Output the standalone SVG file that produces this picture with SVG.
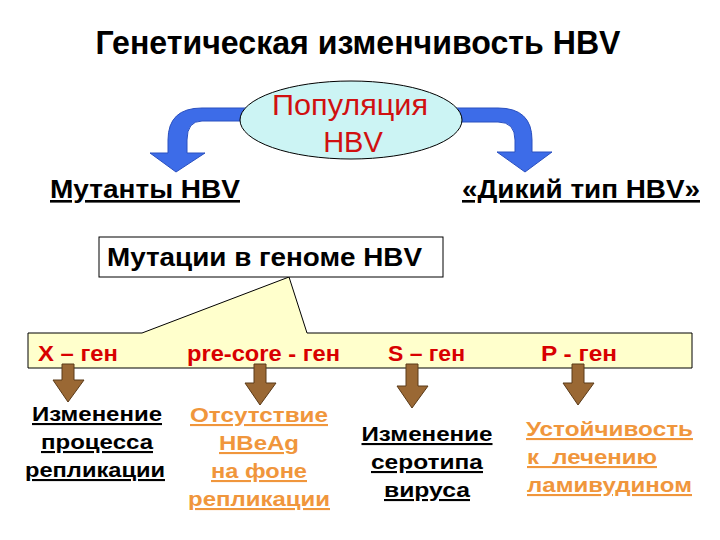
<svg xmlns="http://www.w3.org/2000/svg" width="720" height="540" viewBox="0 0 720 540">
<style>
text{font-family:"Liberation Sans",Arial,sans-serif;}
.title{font-size:33px;font-weight:bold;fill:#000;}
.lbl{font-size:26px;font-weight:bold;fill:#000;text-decoration:underline;}
.ell{font-size:29px;fill:#d01010;}
.gene{font-size:22px;font-weight:bold;fill:#d80000;}
.blk{font-size:21px;font-weight:bold;fill:#000;text-decoration:underline;}
.org{font-size:21px;font-weight:bold;fill:#f0963c;text-decoration:underline;}
.blue{fill:#3d6ce8;stroke:#2a50c0;stroke-width:1;}
.brown{fill:#9a6834;stroke:#5a3a18;stroke-width:1;}
</style>
<rect width="720" height="540" fill="#fff"/>
<g id="title"><text class="title" x="358" y="54" text-anchor="middle" textLength="525" lengthAdjust="spacingAndGlyphs">Генетическая изменчивость HBV</text></g>
<g id="mutants"><text class="lbl" x="50" y="198" textLength="190" lengthAdjust="spacingAndGlyphs">Мутанты HBV</text></g>
<g id="wild"><text class="lbl" x="462" y="198" textLength="238" lengthAdjust="spacingAndGlyphs">«Дикий тип HBV»</text></g>
<g id="genes">
<path d="M28,333 H142 L289,277 L307,333 H692 V368 H28 Z" fill="#ffffcc" stroke="#000" stroke-width="1"/>
<text class="gene" x="38" y="361" textLength="80" lengthAdjust="spacingAndGlyphs">X – ген</text>
<text class="gene" x="187" y="361" textLength="153" lengthAdjust="spacingAndGlyphs">pre-core - ген</text>
<text class="gene" x="388" y="361" textLength="77" lengthAdjust="spacingAndGlyphs">S – ген</text>
<text class="gene" x="541" y="361" textLength="76" lengthAdjust="spacingAndGlyphs">P - ген</text>
</g>
<g id="mutations">
<rect x="99" y="237" width="344" height="40" fill="#fff" stroke="#000" stroke-width="1"/>
<text x="107" y="266" font-size="26" font-weight="bold" textLength="315" lengthAdjust="spacingAndGlyphs">Мутации в геноме HBV</text>
</g>
<g id="connectors">
<path class="blue" d="M250,108 H202 Q168,108 168,140 V153 H150 L176,172 L205,153 H187 V140 Q187,121 202,121 H250 Z"/>
<path class="blue" d="M450,108 H498 Q532,108 532,140 V152 H552 L525,172 L497,152 H515 V140 Q515,122 498,122 H450 Z"/>
<path class="brown" d="M62,364 H74 V380 H84 L68,402 L53,380 H62 Z"/>
<path class="brown" d="M254,364 H266 V383 H276 L260,405 L245,383 H254 Z"/>
<path class="brown" d="M406,364 H418 V386 H428 L412,408 L397,386 H406 Z"/>
<path class="brown" d="M572,364 H584 V383 H594 L578,405 L563,383 H572 Z"/>
</g>
<g id="population">
<ellipse cx="351" cy="120" rx="111" ry="39" fill="#ccf4f4" stroke="#000" stroke-width="1"/>
<text class="ell" x="350" y="115" text-anchor="middle" textLength="156" lengthAdjust="spacingAndGlyphs">Популяция</text>
<text class="ell" x="353" y="152" text-anchor="middle">HBV</text>
</g>
<g id="x-effect">
<text class="blk" x="97" y="421" text-anchor="middle" textLength="130" lengthAdjust="spacingAndGlyphs">Изменение</text>
<text class="blk" x="97" y="449" text-anchor="middle" textLength="112" lengthAdjust="spacingAndGlyphs">процесса</text>
<text class="blk" x="95" y="477" text-anchor="middle" textLength="140" lengthAdjust="spacingAndGlyphs">репликации</text>
</g>
<g id="precore-effect">
<text class="org" x="259" y="422" text-anchor="middle" textLength="138" lengthAdjust="spacingAndGlyphs">Отсутствие</text>
<text class="org" x="259" y="450" text-anchor="middle" textLength="80" lengthAdjust="spacingAndGlyphs">HBeAg</text>
<text class="org" x="259" y="478" text-anchor="middle" textLength="96" lengthAdjust="spacingAndGlyphs">на фоне</text>
<text class="org" x="259" y="506" text-anchor="middle" textLength="142" lengthAdjust="spacingAndGlyphs">репликации</text>
</g>
<g id="s-effect">
<text class="blk" x="427" y="441" text-anchor="middle" textLength="131" lengthAdjust="spacingAndGlyphs">Изменение</text>
<text class="blk" x="427" y="469" text-anchor="middle" textLength="112" lengthAdjust="spacingAndGlyphs">серотипа</text>
<text class="blk" x="427" y="497" text-anchor="middle" textLength="86" lengthAdjust="spacingAndGlyphs">вируса</text>
</g>
<g id="p-effect">
<text class="org" x="526" y="436" textLength="167" lengthAdjust="spacingAndGlyphs">Устойчивость</text>
<text class="org" x="527" y="464" textLength="130" lengthAdjust="spacingAndGlyphs" style="white-space:pre">к  лечению</text>
<text class="org" x="527" y="492" textLength="165" lengthAdjust="spacingAndGlyphs">ламивудином</text>
</g>
</svg>
